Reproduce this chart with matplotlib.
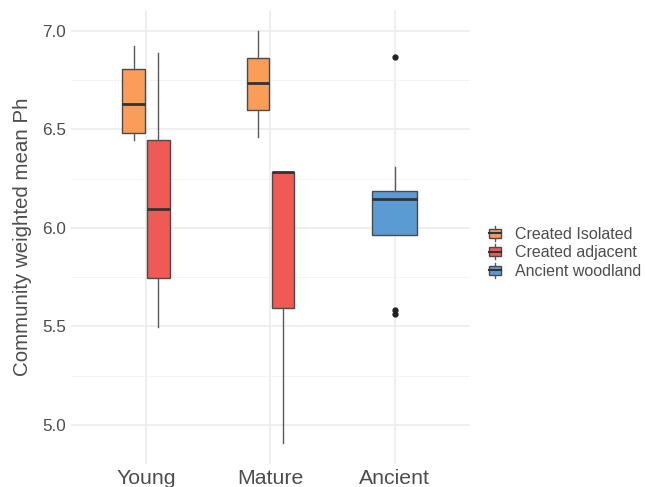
import matplotlib
matplotlib.use("Agg")
import matplotlib.pyplot as plt
from matplotlib.legend_handler import HandlerBase
from matplotlib.patches import Rectangle
from matplotlib.lines import Line2D

plt.rcParams['font.family'] = ['Liberation Sans', 'DejaVu Sans']

# Box statistics per age class and woodland type
ages = ["Young", "Mature", "Ancient"]
groups = ["Created Isolated", "Created adjacent", "Ancient woodland"]
colors = {"Created Isolated": "#FA9D58",
          "Created adjacent": "#EF5A54",
          "Ancient woodland": "#5A9BD4"}

# one entry per box
box_age = ["Young", "Young", "Mature", "Mature", "Ancient"]
box_group = ["Created Isolated", "Created adjacent",
             "Created Isolated", "Created adjacent", "Ancient woodland"]
whislo = [6.447, 5.496, 6.463, 4.907, 5.964]
q1 = [6.481, 5.748, 6.597, 5.592, 5.964]
med = [6.629, 6.096, 6.734, 6.283, 6.147]
q3 = [6.806, 6.447, 6.865, 6.286, 6.189]
whishi = [6.924, 6.890, 7.000, 6.286, 6.308]
fliers = [[], [], [], [], [6.870, 5.584, 5.563]]

y_ticks = [5.0, 5.5, 6.0, 6.5, 7.0]

fig = plt.figure(figsize=(6.45, 4.87), dpi=100)
ax = fig.add_axes([0.1105, 0.0472, 0.728 - 0.1105, 0.9789 - 0.0472])

# dodge layout: how many groups fall in each age class
n_in_age = {a: box_age.count(a) for a in ages}
dodge_total = 0.4
pad = 0.1
seen = {a: 0 for a in ages}
for i in range(len(box_age)):
    a = box_age[i]
    n = n_in_age[a]
    k = seen[a]
    seen[a] += 1
    slot = dodge_total / n
    xc = ages.index(a) + 1 - dodge_total / 2 + slot * (k + 0.5)
    w = slot * (1 - pad)
    stats = [dict(med=med[i], q1=q1[i], q3=q3[i], whislo=whislo[i],
                  whishi=whishi[i], fliers=fliers[i])]
    ax.bxp(stats, positions=[xc], widths=w, patch_artist=True,
           showcaps=False, manage_ticks=False,
           boxprops=dict(facecolor=colors[box_group[i]], edgecolor="#4a4a4a",
                         linewidth=1.0),
           medianprops=dict(color="#333333", linewidth=2.0),
           whiskerprops=dict(color="#5a5a5a", linewidth=1.0),
           flierprops=dict(marker="o", markersize=3.5, markerfacecolor="#222222",
                           markeredgecolor="#222222"),
           zorder=3)

ax.set_xlim(0.4, 3.6)
ax.set_ylim(4.802, 7.105)
ax.set_xticks([1, 2, 3])
ax.set_xticklabels(ages)
ax.set_yticks(y_ticks)
ax.set_yticklabels([f"{v:.1f}" for v in y_ticks])
ax.set_yticks([5.25, 5.75, 6.25, 6.75], minor=True)

ax.grid(True, which="major", color="#EBEBEB", linewidth=1.1, zorder=0)
ax.grid(True, which="minor", axis="y", color="#F3F3F3", linewidth=0.6, zorder=0)
ax.set_axisbelow(True)
for s in ax.spines.values():
    s.set_visible(False)
ax.tick_params(axis="both", which="both", length=0)
ax.tick_params(axis="y", labelsize=12.3, labelcolor="#4D4D4D", pad=4)
ax.tick_params(axis="x", labelsize=15.3, labelcolor="#4D4D4D", pad=3.5)
ax.set_ylabel("Community weighted mean Ph", fontsize=14.8, color="#4D4D4D",
              labelpad=7)


class BoxKey(HandlerBase):
    def create_artists(self, legend, orig_handle, xdescent, ydescent,
                       width, height, fontsize, trans):
        fc = orig_handle.get_facecolor()
        cx = width / 2 - xdescent
        bw = width * 0.8
        bh = height * 0.75
        y0 = -ydescent + (height - bh) / 2
        wl = Line2D([cx, cx], [-ydescent - 1, -ydescent + height + 1],
                    color="#5a5a5a", lw=1.0, transform=trans)
        r = Rectangle((cx - bw / 2, y0), bw, bh, facecolor=fc,
                      edgecolor="#4a4a4a", lw=1.0, transform=trans)
        ml = Line2D([cx - bw / 2, cx + bw / 2], [y0 + bh / 2, y0 + bh / 2],
                    color="#333333", lw=1.5, transform=trans)
        return [wl, r, ml]


handles = [Rectangle((0, 0), 1, 1, facecolor=colors[g]) for g in groups]
leg = fig.legend(handles, groups, loc="center left",
                 bbox_to_anchor=(0.755, 0.481), frameon=False,
                 borderpad=0, borderaxespad=0,
                 handler_map={Rectangle: BoxKey()},
                 handlelength=0.97, handleheight=0.8, handletextpad=0.8,
                 labelspacing=0.22, fontsize=11.5)
for t in leg.get_texts():
    t.set_color("#4D4D4D")

fig.savefig("out.png", dpi=100)
